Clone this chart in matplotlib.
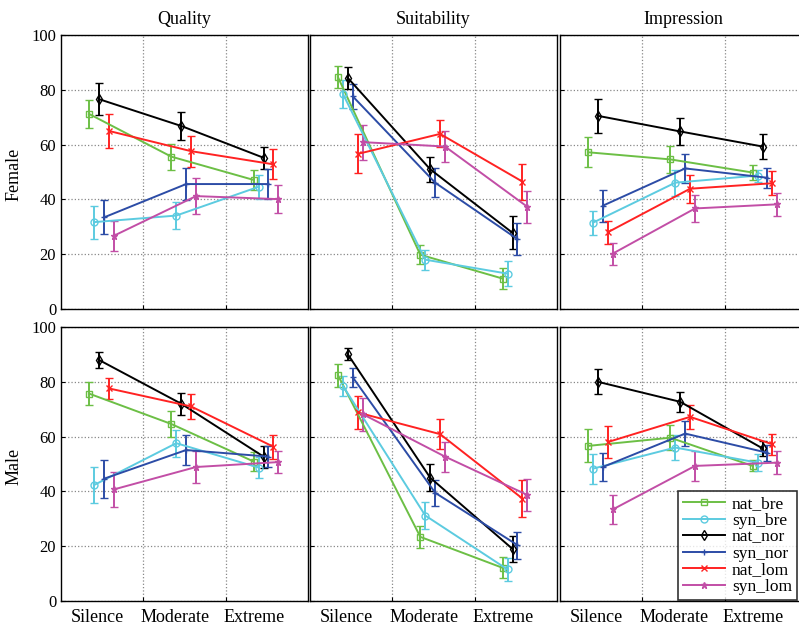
import numpy as np
import matplotlib
matplotlib.use('Agg')
import matplotlib.pyplot as plt
from matplotlib.lines import Line2D

plt.rcParams['font.family'] = ['Liberation Serif', 'DejaVu Serif']

conds = ['Silence', 'Moderate', 'Extreme']
series = ['nat_bre', 'syn_bre', 'nat_nor', 'syn_nor', 'nat_lom', 'syn_lom']
colors = ['#6cbf45', '#5ccbe0', '#000000', '#2c4ca6', '#ff2222', '#c24ea6']
markers = ['s', 'o', 'd', '+', 'x', '*']
offsets = [-0.16, -0.10, -0.04, 0.02, 0.08, 0.14]

# rows: series, cols: Silence / Moderate / Extreme
qual_f_mean = [[71.2, 55.6, 47.1], [31.7, 34.1, 44.6], [76.6, 66.8, 55.2],
               [33.4, 45.6, 45.6], [65.0, 57.6, 52.8], [26.7, 41.2, 40.1]]
qual_f_err = [[5.0, 4.7, 3.7], [6.0, 4.8, 4.3], [5.7, 5.0, 4.0],
              [6.2, 5.9, 5.5], [6.1, 5.7, 5.5], [5.4, 6.6, 5.0]]
suit_f_mean = [[84.6, 19.8, 11.1], [78.5, 18.0, 12.9], [84.3, 51.0, 27.8],
               [77.6, 46.1, 25.5], [56.6, 63.9, 46.5], [60.9, 59.3, 37.3]]
suit_f_err = [[4.0, 3.5, 3.7], [5.0, 3.6, 4.6], [4.0, 4.6, 6.0],
              [4.6, 5.3, 5.9], [7.1, 4.9, 6.6], [6.4, 5.5, 5.8]]
impr_f_mean = [[57.2, 54.6, 49.8], [31.5, 46.1, 48.7], [70.5, 64.8, 59.3],
               [37.7, 51.3, 47.9], [28.0, 43.9, 45.9], [20.2, 36.7, 38.2]]
impr_f_err = [[5.4, 4.9, 2.6], [4.4, 4.7, 2.2], [6.1, 4.8, 4.4],
              [5.8, 5.2, 3.6], [4.1, 5.1, 4.3], [4.0, 4.9, 4.1]]
qual_m_mean = [[75.7, 64.6, 50.9], [42.3, 57.6, 48.7], [88.0, 72.0, 52.7],
               [44.6, 55.1, 52.7], [77.6, 71.0, 56.3], [40.7, 48.9, 50.7]]
qual_m_err = [[4.3, 4.9, 3.4], [6.7, 4.9, 3.8], [2.8, 4.0, 4.0],
              [6.9, 5.5, 3.8], [3.8, 4.5, 4.3], [6.3, 5.9, 4.1]]
suit_m_mean = [[82.4, 23.4, 12.1], [78.5, 31.2, 11.5], [90.0, 45.0, 19.0],
               [81.6, 39.5, 20.4], [68.8, 60.9, 37.4], [68.2, 52.7, 38.7]]
suit_m_err = [[4.2, 4.0, 3.8], [3.7, 5.0, 4.3], [2.2, 5.0, 4.6],
              [3.4, 4.8, 4.9], [6.1, 5.5, 6.6], [6.0, 5.5, 6.0]]
impr_m_mean = [[56.6, 59.6, 49.3], [48.3, 56.0, 50.5], [80.0, 72.7, 55.7],
               [48.9, 61.1, 54.1], [58.0, 67.2, 57.2], [33.4, 49.3, 50.5]]
impr_m_err = [[6.0, 4.5, 2.0], [5.5, 4.5, 3.0], [4.5, 3.7, 2.8],
              [5.2, 4.6, 3.0], [5.7, 4.5, 3.8], [5.2, 5.4, 4.1]]

panels = [[(qual_f_mean, qual_f_err), (suit_f_mean, suit_f_err), (impr_f_mean, impr_f_err)],
          [(qual_m_mean, qual_m_err), (suit_m_mean, suit_m_err), (impr_m_mean, impr_m_err)]]
titles = ['Quality', 'Suitability', 'Impression']
rows = ['Female', 'Male']
label_x = [0.94, 1.89, 2.85]

fig = plt.figure(figsize=(7.99, 6.25), dpi=100)
lefts = [61/799, 310/799, 560/799]
bottoms = [(625-309)/625, (625-601)/625]
w = 247/799
h = 274/625

x = np.arange(1, 4)
for r in range(2):
    for c in range(3):
        ax = fig.add_axes([lefts[c], bottoms[r], w, h])
        means, errs = panels[r][c]
        for k in range(6):
            ax.errorbar(x + offsets[k], means[k], yerr=errs[k], color=colors[k],
                        marker=markers[k], markersize=5, markerfacecolor='none',
                        markeredgecolor=colors[k], markeredgewidth=1.0,
                        linewidth=1.4, elinewidth=1.4, capsize=3, capthick=1.4)
        ax.set_xlim(0.5, 3.5)
        ax.set_ylim(0, 100)
        ax.set_xticks([1.5, 2.5])
        ax.set_xticklabels([])
        ax.set_yticks([0, 20, 40, 60, 80, 100])
        ax.grid(True, linestyle=':', color='#888888', linewidth=0.9)
        ax.tick_params(direction='in', length=3, labelsize=12)
        for s in ax.spines.values():
            s.set_linewidth(1.0)
        if c == 0:
            ax.set_ylabel(rows[r], fontsize=13)
            ax.yaxis.set_label_coords(-0.155, 0.49)
        else:
            ax.set_yticklabels([])
        if r == 0:
            ax.set_title(titles[c], fontsize=13, pad=8)
        else:
            for k in range(3):
                ax.text(label_x[k], -3, conds[k], ha='center', va='top',
                        fontsize=13, transform=ax.transData)
        if r == 1 and c == 2:
            handles = [Line2D([], [], color=colors[k], marker=markers[k], markersize=5,
                              markerfacecolor='none', linewidth=1.4)
                       for k in range(6)]
            leg = ax.legend(handles, series, loc='lower right',
                            bbox_to_anchor=(797/799, 25/625),
                            bbox_transform=fig.transFigure, fontsize=12.5,
                            frameon=True, fancybox=False, edgecolor='black',
                            handlelength=2.4, borderpad=0.3, labelspacing=0.02,
                            handletextpad=0.4, borderaxespad=0)
            leg.get_frame().set_linewidth(1.2)

fig.savefig('out.png', dpi=100)
